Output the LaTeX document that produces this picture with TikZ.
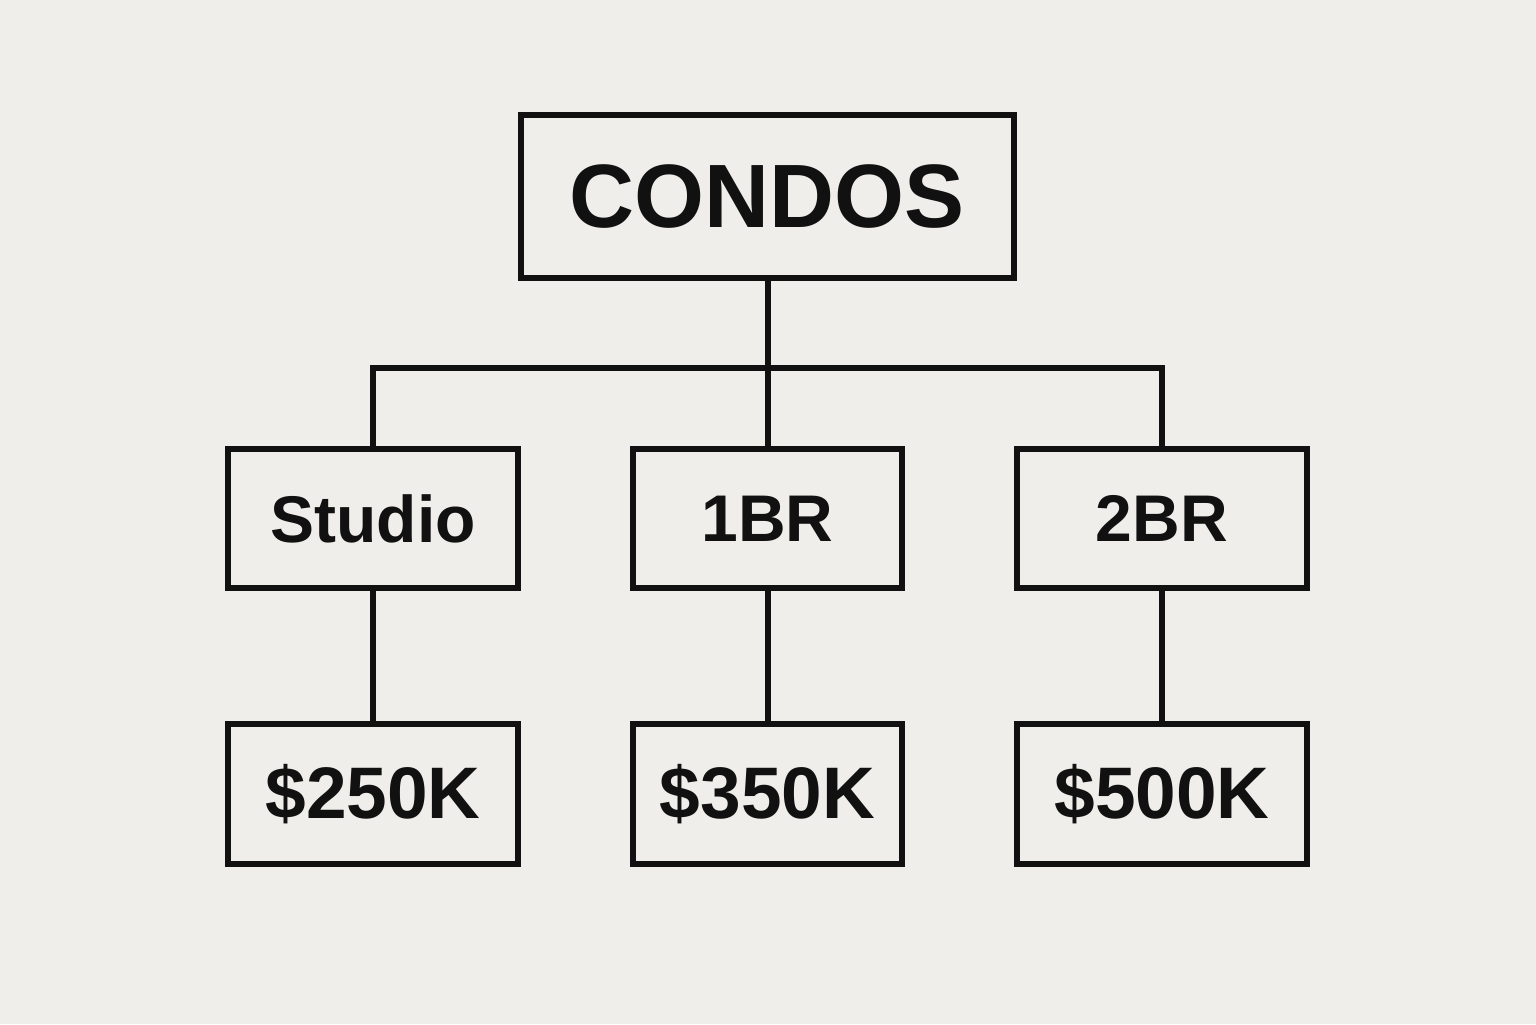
\documentclass[tikz,border=0pt]{standalone}
\usepackage{fontspec}
\setmainfont{Liberation Sans}
\usetikzlibrary{positioning}

\definecolor{paper}{RGB}{240,238,234}
\definecolor{ink}{RGB}{17,17,17}

\tikzset{
    box/.style={draw=ink, line width=3pt, inner sep=0pt, text=ink,
        minimum height=69.5pt, font=\bfseries\fontsize{33}{36}\selectfont},
    topbox/.style={box, minimum width=246.5pt, minimum height=81.5pt,
        font=\bfseries\fontsize{45}{50}\selectfont},
    pricebox/.style={box, minimum height=70pt,
        font=\bfseries\fontsize{36.5}{40}\selectfont},
    link/.style={draw=ink, line width=3pt}
}

\begin{document}
\begin{tikzpicture}[x=.5pt,y=-.5pt]

    %background:
    \fill[paper] (0,0) rectangle (1536,1024);
    \useasboundingbox (0,0) rectangle (1536,1024);

    %draw boxes:
    \node[topbox] (condos) at (767.5,196.5) {CONDOS};

    \node[box, minimum width=145pt] (studio) at (373,518.5) {Studio};
    \node[box, minimum width=134.5pt] (onebr) at (767.5,518.5) {1BR};
    \node[box, minimum width=145pt] (twobr) at (1162,518.5) {2BR};

    \node[pricebox, minimum width=145pt] (studioprice) at (373,794) {\$250K};
    \node[pricebox, minimum width=134.5pt] (onebrprice) at (767.5,794) {\$350K};
    \node[pricebox, minimum width=145pt] (twobrprice) at (1162,794) {\$500K};

    %draw links:
    \coordinate (bus) at (767.5,368);
    \draw[link] (condos.south) -- (onebr.north);
    \draw[link] (studio.north) |- (bus) -| (twobr.north);

    \draw[link] (studio.south) -- (studioprice.north);
    \draw[link] (onebr.south) -- (onebrprice.north);
    \draw[link] (twobr.south) -- (twobrprice.north);

\end{tikzpicture}
\end{document}
